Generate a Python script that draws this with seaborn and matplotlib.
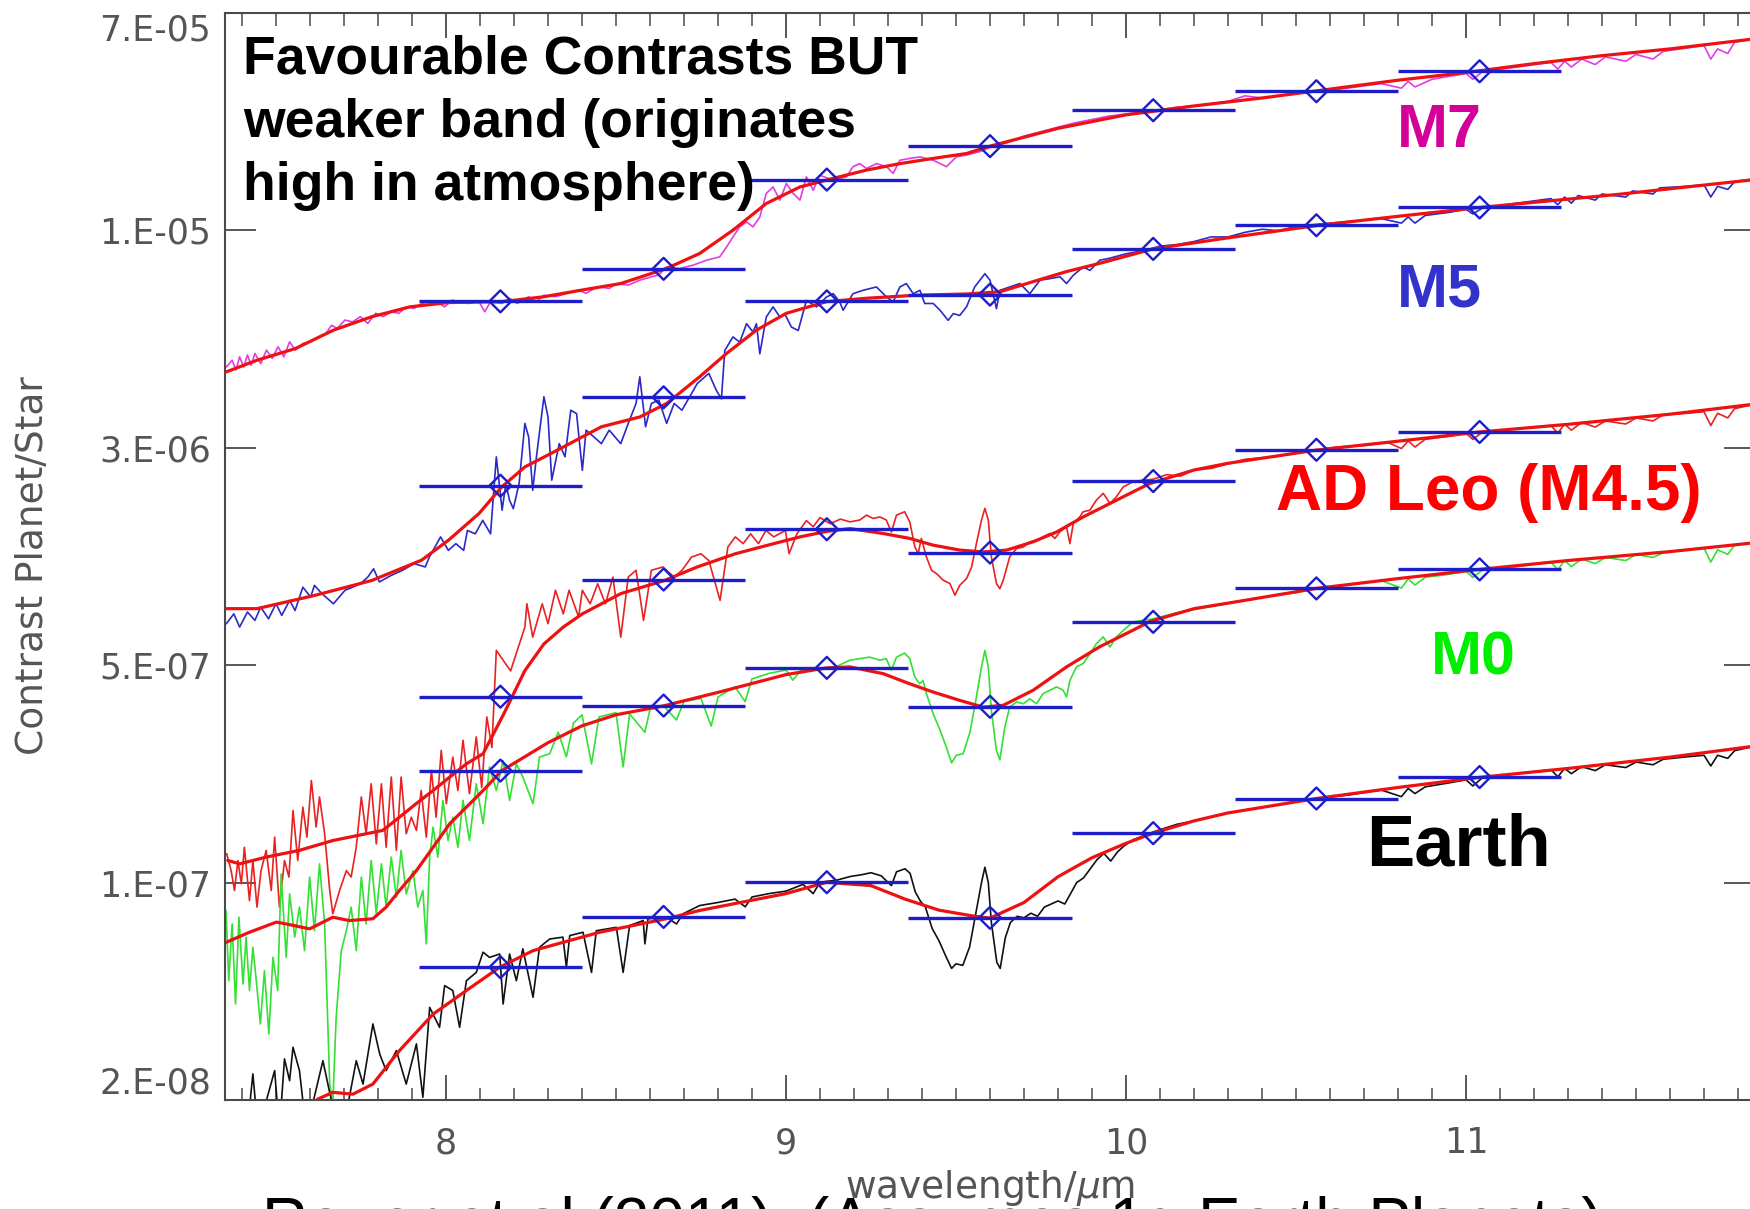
import numpy as np
import pandas as pd
import seaborn as sns
import matplotlib.pyplot as plt
from matplotlib.ticker import MultipleLocator, NullLocator

# wavelength in micron, contrast given as log10(planet/star)
bin_centres = [8.16, 8.64, 9.12, 9.60, 10.08, 10.56, 11.04]
bin_half_width = 0.24

m7_bins = [-5.095, -4.989, -4.698, -4.589, -4.472, -4.410, -4.345]
m5_bins = [-5.696, -5.408, -5.095, -5.073, -4.924, -4.847, -4.789]
adleo_bins = [-6.384, -6.002, -5.838, -5.914, -5.681, -5.579, -5.521]
m0_bins = [-6.625, -6.413, -6.290, -6.417, -6.140, -6.031, -5.969]
earth_bins = [-7.266, -7.102, -6.989, -7.105, -6.829, -6.716, -6.646]

m7_spec = [
    (7.354, -5.309), (7.371, -5.287), (7.382, -5.319), (7.393, -5.276), (7.405, -5.309), (7.416, -5.270),
    (7.427, -5.303), (7.438, -5.265), (7.455, -5.298), (7.472, -5.254), (7.489, -5.281), (7.506, -5.243),
    (7.523, -5.276), (7.540, -5.227), (7.557, -5.254), (7.579, -5.232), (7.602, -5.227), (7.624, -5.211),
    (7.647, -5.200), (7.663, -5.173), (7.680, -5.183), (7.703, -5.156), (7.725, -5.162), (7.748, -5.145),
    (7.770, -5.167), (7.793, -5.134), (7.816, -5.145), (7.838, -5.129), (7.861, -5.134), (7.883, -5.113),
    (7.906, -5.118), (7.928, -5.102), (7.951, -5.107), (7.973, -5.096), (7.996, -5.113), (8.018, -5.091),
    (8.063, -5.102), (8.097, -5.096), (8.114, -5.129), (8.131, -5.096), (8.165, -5.102), (8.187, -5.085),
    (8.210, -5.102), (8.243, -5.080), (8.266, -5.096), (8.288, -5.075), (8.322, -5.080), (8.356, -5.069),
    (8.390, -5.058), (8.412, -5.069), (8.446, -5.047), (8.480, -5.053), (8.502, -5.037), (8.536, -5.042),
    (8.570, -5.026), (8.604, -5.015), (8.626, -5.009), (8.648, -4.983), (8.687, -4.988), (8.727, -4.977),
    (8.766, -4.961), (8.805, -4.950), (8.825, -4.918), (8.844, -4.885), (8.864, -4.852), (8.884, -4.836),
    (8.903, -4.852), (8.923, -4.820), (8.942, -4.743), (8.962, -4.722), (8.982, -4.765), (9.001, -4.711),
    (9.021, -4.743), (9.041, -4.765), (9.060, -4.689), (9.080, -4.733), (9.099, -4.684), (9.139, -4.700),
    (9.178, -4.689), (9.197, -4.656), (9.217, -4.646), (9.237, -4.662), (9.266, -4.646), (9.296, -4.656),
    (9.315, -4.678), (9.335, -4.635), (9.364, -4.629), (9.394, -4.624), (9.433, -4.635), (9.472, -4.656),
    (9.501, -4.624), (9.531, -4.618), (9.570, -4.607), (9.60, -4.593), (9.65, -4.578), (9.70, -4.556),
    (9.75, -4.542), (9.80, -4.527), (9.85, -4.513), (9.90, -4.502), (9.95, -4.491), (10.00, -4.484),
    (10.08, -4.473), (10.15, -4.462), (10.20, -4.458), (10.30, -4.443), (10.35, -4.425), (10.40, -4.432),
    (10.50, -4.418), (10.56, -4.411), (10.65, -4.400), (10.75, -4.385), (10.81, -4.400), (10.83, -4.378),
    (10.85, -4.396), (10.90, -4.371), (11.00, -4.352), (11.02, -4.371), (11.05, -4.345), (11.15, -4.331),
    (11.25, -4.316), (11.27, -4.338), (11.29, -4.312), (11.31, -4.331), (11.34, -4.305), (11.38, -4.323),
    (11.41, -4.298), (11.47, -4.312), (11.50, -4.290), (11.55, -4.305), (11.58, -4.280), (11.65, -4.269),
    (11.70, -4.261), (11.72, -4.305), (11.74, -4.272), (11.77, -4.287), (11.79, -4.250), (11.85, -4.239),
]
m7_smooth = [
    (7.354, -5.325), (7.444, -5.287), (7.557, -5.249), (7.669, -5.189), (7.782, -5.145), (7.894, -5.113),
    (8.007, -5.099), (8.165, -5.096), (8.288, -5.080), (8.401, -5.058), (8.514, -5.037), (8.648, -4.988),
    (8.746, -4.939), (8.844, -4.863), (8.942, -4.776), (9.041, -4.722), (9.139, -4.694), (9.237, -4.667),
    (9.335, -4.646), (9.433, -4.629), (9.531, -4.613), (9.60, -4.589), (9.80, -4.531), (10.00, -4.487),
    (10.20, -4.458), (10.40, -4.432), (10.60, -4.403), (10.80, -4.374), (11.00, -4.349), (11.20, -4.320),
    (11.40, -4.294), (11.60, -4.272), (11.85, -4.239),
]

m5_spec = [
    (7.354, -6.146), (7.376, -6.114), (7.393, -6.157), (7.416, -6.108), (7.438, -6.135), (7.455, -6.092),
    (7.478, -6.130), (7.500, -6.081), (7.517, -6.119), (7.540, -6.070), (7.556, -6.103), (7.579, -6.027),
    (7.602, -6.059), (7.613, -6.021), (7.635, -6.048), (7.658, -6.070), (7.669, -6.081), (7.703, -6.037),
    (7.725, -6.027), (7.748, -6.016), (7.770, -5.994), (7.787, -5.967), (7.804, -6.010), (7.838, -5.989),
    (7.872, -5.972), (7.906, -5.950), (7.939, -5.961), (7.951, -5.929), (7.984, -5.863), (8.007, -5.907),
    (8.029, -5.885), (8.052, -5.907), (8.063, -5.842), (8.086, -5.853), (8.108, -5.809), (8.131, -5.853),
    (8.148, -5.602), (8.165, -5.776), (8.176, -5.689), (8.187, -5.744), (8.198, -5.771), (8.215, -5.689),
    (8.232, -5.493), (8.243, -5.537), (8.255, -5.711), (8.266, -5.602), (8.288, -5.406), (8.300, -5.472),
    (8.311, -5.678), (8.333, -5.559), (8.350, -5.602), (8.367, -5.450), (8.384, -5.461), (8.401, -5.646),
    (8.412, -5.515), (8.435, -5.537), (8.457, -5.559), (8.480, -5.515), (8.514, -5.559), (8.536, -5.493),
    (8.559, -5.428), (8.570, -5.341), (8.587, -5.504), (8.604, -5.428), (8.626, -5.417), (8.649, -5.493),
    (8.671, -5.428), (8.694, -5.450), (8.739, -5.363), (8.773, -5.330), (8.795, -5.385), (8.806, -5.406),
    (8.810, -5.413), (8.820, -5.255), (8.844, -5.211), (8.864, -5.228), (8.884, -5.168), (8.903, -5.195),
    (8.913, -5.168), (8.923, -5.266), (8.942, -5.146), (8.962, -5.113), (8.982, -5.146), (8.996, -5.135),
    (9.016, -5.179), (9.036, -5.190), (9.060, -5.092), (9.090, -5.113), (9.119, -5.081), (9.139, -5.070),
    (9.158, -5.097), (9.168, -5.124), (9.197, -5.070), (9.227, -5.059), (9.266, -5.048), (9.296, -5.081),
    (9.315, -5.097), (9.335, -5.048), (9.354, -5.037), (9.374, -5.070), (9.394, -5.059), (9.408, -5.102),
    (9.433, -5.102), (9.453, -5.124), (9.477, -5.157), (9.492, -5.135), (9.511, -5.141), (9.531, -5.113),
    (9.555, -5.048), (9.585, -5.005), (9.600, -5.026), (9.619, -5.119), (9.629, -5.059), (9.658, -5.048),
    (9.688, -5.037), (9.717, -5.070), (9.747, -5.026), (9.776, -5.021), (9.806, -5.015), (9.825, -5.037),
    (9.845, -5.010), (9.874, -4.983), (9.894, -4.994), (9.923, -4.961), (9.95, -4.955), (10.00, -4.940),
    (10.05, -4.930), (10.10, -4.915), (10.15, -4.910), (10.20, -4.900), (10.25, -4.885), (10.30, -4.885),
    (10.35, -4.870), (10.40, -4.860), (10.45, -4.865), (10.50, -4.850), (10.55, -4.845), (10.60, -4.840),
    (10.65, -4.835), (10.70, -4.830), (10.75, -4.825), (10.81, -4.840), (10.83, -4.820), (10.85, -4.840),
    (10.88, -4.815), (10.95, -4.805), (11.00, -4.795), (11.02, -4.810), (11.05, -4.790), (11.15, -4.775),
    (11.25, -4.760), (11.27, -4.780), (11.29, -4.755), (11.31, -4.775), (11.33, -4.750), (11.38, -4.765),
    (11.40, -4.745), (11.47, -4.755), (11.49, -4.735), (11.55, -4.745), (11.57, -4.725), (11.65, -4.720),
    (11.70, -4.715), (11.72, -4.755), (11.74, -4.720), (11.77, -4.730), (11.79, -4.705), (11.85, -4.695),
]
m5_smooth = [
    (7.354, -6.097), (7.444, -6.097), (7.613, -6.054), (7.782, -6.005), (7.928, -5.939), (8.007, -5.874),
    (8.097, -5.787), (8.164, -5.700), (8.232, -5.635), (8.345, -5.570), (8.457, -5.504), (8.570, -5.472),
    (8.649, -5.428), (8.746, -5.341), (8.825, -5.265), (8.913, -5.189), (9.001, -5.134), (9.119, -5.096),
    (9.236, -5.085), (9.384, -5.075), (9.531, -5.071), (9.629, -5.064), (9.726, -5.031), (9.825, -4.998),
    (9.923, -4.971), (10.08, -4.924), (10.30, -4.888), (10.56, -4.848), (10.79, -4.819), (11.04, -4.789),
    (11.45, -4.746), (11.85, -4.698),
]

adleo_spec = [
    (7.355, -6.896), (7.368, -6.951), (7.378, -7.016), (7.388, -6.918), (7.398, -6.994), (7.407, -6.875),
    (7.422, -7.049), (7.432, -6.918), (7.444, -7.070), (7.456, -6.951), (7.471, -6.885), (7.486, -7.016),
    (7.496, -6.842), (7.510, -7.070), (7.525, -6.918), (7.538, -6.972), (7.550, -6.755), (7.564, -6.918),
    (7.579, -6.744), (7.591, -6.842), (7.604, -6.657), (7.618, -6.809), (7.628, -6.711), (7.643, -6.831),
    (7.658, -7.016), (7.667, -7.092), (7.687, -7.016), (7.707, -6.951), (7.721, -6.972), (7.736, -6.875),
    (7.751, -6.711), (7.765, -6.831), (7.780, -6.668), (7.795, -6.864), (7.810, -6.668), (7.824, -6.875),
    (7.839, -6.646), (7.854, -6.885), (7.868, -6.646), (7.883, -6.831), (7.898, -6.777), (7.913, -6.820),
    (7.927, -6.690), (7.942, -6.842), (7.957, -6.624), (7.971, -6.777), (7.986, -6.559), (8.001, -6.733),
    (8.020, -6.581), (8.035, -6.690), (8.050, -6.526), (8.069, -6.700), (8.089, -6.515), (8.105, -6.680),
    (8.120, -6.450), (8.135, -6.550), (8.148, -6.233), (8.190, -6.300), (8.232, -6.157), (8.238, -6.081),
    (8.255, -6.190), (8.283, -6.081), (8.300, -6.146), (8.322, -6.037), (8.345, -6.114), (8.362, -6.037),
    (8.390, -6.124), (8.401, -6.037), (8.424, -6.081), (8.446, -6.016), (8.469, -6.081), (8.491, -5.994),
    (8.514, -6.190), (8.536, -5.994), (8.559, -5.972), (8.581, -6.135), (8.604, -5.972), (8.638, -5.961),
    (8.671, -5.994), (8.694, -5.972), (8.722, -5.929), (8.750, -5.918), (8.773, -5.940), (8.806, -6.070),
    (8.829, -5.896), (8.851, -5.863), (8.874, -5.885), (8.896, -5.853), (8.919, -5.885), (8.941, -5.842),
    (8.964, -5.863), (8.998, -5.842), (9.009, -5.918), (9.032, -5.853), (9.060, -5.810), (9.080, -5.830),
    (9.100, -5.800), (9.130, -5.820), (9.160, -5.805), (9.188, -5.814), (9.217, -5.808), (9.237, -5.792),
    (9.256, -5.803), (9.276, -5.798), (9.295, -5.808), (9.310, -5.847), (9.325, -5.792), (9.349, -5.781),
    (9.364, -5.814), (9.379, -5.896), (9.389, -5.917), (9.398, -5.868), (9.413, -5.928), (9.428, -5.972),
    (9.443, -5.983), (9.462, -6.004), (9.482, -6.015), (9.497, -6.053), (9.511, -6.021), (9.531, -5.999),
    (9.546, -5.961), (9.560, -5.885), (9.575, -5.808), (9.585, -5.770), (9.595, -5.808), (9.604, -5.928),
    (9.619, -6.015), (9.629, -6.032), (9.639, -6.004), (9.658, -5.928), (9.678, -5.901), (9.698, -5.896),
    (9.717, -5.879), (9.737, -5.874), (9.756, -5.863), (9.776, -5.852), (9.791, -5.868), (9.805, -5.847),
    (9.825, -5.830), (9.835, -5.885), (9.845, -5.819), (9.864, -5.798), (9.874, -5.781), (9.894, -5.776),
    (9.913, -5.743), (9.933, -5.721), (9.953, -5.754), (9.972, -5.732), (9.992, -5.700), (10.021, -5.683),
    (10.051, -5.678), (10.08, -5.675), (10.12, -5.660), (10.16, -5.665), (10.20, -5.645), (10.25, -5.640),
    (10.30, -5.625), (10.35, -5.610), (10.40, -5.605), (10.45, -5.600), (10.50, -5.590), (10.56, -5.580),
    (10.62, -5.570), (10.70, -5.565), (10.77, -5.555), (10.81, -5.575), (10.83, -5.550), (10.85, -5.570),
    (10.88, -5.545), (10.95, -5.535), (11.00, -5.525), (11.02, -5.545), (11.05, -5.520), (11.15, -5.510),
    (11.25, -5.500), (11.27, -5.525), (11.29, -5.495), (11.31, -5.515), (11.34, -5.490), (11.38, -5.505),
    (11.41, -5.485), (11.47, -5.495), (11.50, -5.475), (11.55, -5.485), (11.58, -5.465), (11.65, -5.460),
    (11.70, -5.455), (11.72, -5.500), (11.74, -5.460), (11.77, -5.475), (11.79, -5.445), (11.85, -5.430),
]
adleo_smooth = [
    (7.358, -6.918), (7.393, -6.929), (7.471, -6.907), (7.569, -6.885), (7.667, -6.853), (7.765, -6.831),
    (7.814, -6.820), (7.863, -6.777), (7.912, -6.733), (7.962, -6.690), (8.011, -6.646), (8.060, -6.603),
    (8.109, -6.570), (8.170, -6.440), (8.232, -6.299), (8.288, -6.212), (8.345, -6.157), (8.401, -6.114),
    (8.514, -6.048), (8.643, -6.005), (8.739, -5.961), (8.851, -5.918), (8.964, -5.885), (9.041, -5.863),
    (9.120, -5.845), (9.188, -5.836), (9.286, -5.852), (9.364, -5.868), (9.433, -5.890), (9.511, -5.906),
    (9.580, -5.912), (9.649, -5.906), (9.727, -5.879), (9.796, -5.847), (9.874, -5.798), (9.953, -5.754),
    (10.021, -5.716), (10.070, -5.689), (10.20, -5.645), (10.30, -5.623), (10.56, -5.580), (10.80, -5.551),
    (11.04, -5.521), (11.30, -5.496), (11.60, -5.463), (11.85, -5.430),
]

m0_spec = [
    (7.353, -7.081), (7.361, -7.310), (7.371, -7.125), (7.381, -7.386), (7.391, -7.103), (7.403, -7.321),
    (7.412, -7.168), (7.422, -7.342), (7.432, -7.201), (7.442, -7.310), (7.454, -7.451), (7.466, -7.277),
    (7.479, -7.484), (7.491, -7.234), (7.505, -7.342), (7.515, -6.962), (7.530, -7.234), (7.540, -7.027),
    (7.555, -7.168), (7.569, -7.070), (7.584, -7.212), (7.599, -6.972), (7.613, -7.147), (7.628, -6.929),
    (7.643, -7.125), (7.658, -7.647), (7.667, -7.712), (7.677, -7.429), (7.692, -7.212), (7.707, -7.147),
    (7.721, -7.070), (7.736, -7.212), (7.751, -6.972), (7.765, -7.125), (7.780, -6.918), (7.795, -7.092),
    (7.810, -6.929), (7.824, -7.070), (7.839, -6.907), (7.854, -7.038), (7.868, -6.885), (7.883, -7.027),
    (7.903, -6.951), (7.917, -7.070), (7.932, -7.016), (7.942, -7.190), (7.952, -6.907), (7.962, -6.809),
    (7.976, -6.907), (7.991, -6.722), (8.006, -6.853), (8.020, -6.777), (8.035, -6.875), (8.050, -6.722),
    (8.069, -6.853), (8.089, -6.668), (8.109, -6.798), (8.128, -6.613), (8.148, -6.690), (8.168, -6.592),
    (8.187, -6.722), (8.207, -6.603), (8.226, -6.646), (8.256, -6.733), (8.275, -6.581), (8.305, -6.570),
    (8.330, -6.500), (8.354, -6.580), (8.375, -6.470), (8.400, -6.443), (8.428, -6.603), (8.450, -6.450),
    (8.500, -6.436), (8.521, -6.613), (8.540, -6.440), (8.585, -6.500), (8.600, -6.425), (8.640, -6.414),
    (8.678, -6.460), (8.700, -6.399), (8.750, -6.390), (8.780, -6.480), (8.800, -6.385), (8.850, -6.352),
    (8.880, -6.400), (8.900, -6.326), (8.950, -6.308), (9.000, -6.297), (9.020, -6.330), (9.050, -6.290),
    (9.100, -6.295), (9.150, -6.285), (9.188, -6.265), (9.217, -6.260), (9.246, -6.255), (9.276, -6.265),
    (9.295, -6.260), (9.310, -6.298), (9.325, -6.255), (9.349, -6.242), (9.364, -6.260), (9.379, -6.320),
    (9.393, -6.342), (9.403, -6.331), (9.413, -6.374), (9.433, -6.440), (9.452, -6.490), (9.472, -6.550),
    (9.487, -6.600), (9.501, -6.575), (9.521, -6.570), (9.541, -6.500), (9.560, -6.385), (9.575, -6.287),
    (9.585, -6.233), (9.595, -6.287), (9.604, -6.429), (9.619, -6.560), (9.629, -6.590), (9.644, -6.480),
    (9.658, -6.418), (9.678, -6.401), (9.698, -6.407), (9.717, -6.391), (9.737, -6.407), (9.756, -6.374),
    (9.776, -6.363), (9.796, -6.352), (9.815, -6.363), (9.825, -6.385), (9.835, -6.331), (9.854, -6.287),
    (9.874, -6.276), (9.894, -6.244), (9.913, -6.211), (9.933, -6.189), (9.953, -6.222), (9.972, -6.189),
    (9.992, -6.168), (10.021, -6.140), (10.051, -6.135), (10.08, -6.130), (10.15, -6.110), (10.20, -6.100),
    (10.30, -6.080), (10.40, -6.060), (10.50, -6.045), (10.56, -6.030), (10.65, -6.020), (10.75, -6.005),
    (10.81, -6.030), (10.83, -6.000), (10.85, -6.020), (10.88, -5.995), (10.95, -5.985), (11.00, -5.975),
    (11.02, -5.995), (11.05, -5.970), (11.15, -5.960), (11.25, -5.945), (11.27, -5.970), (11.29, -5.940),
    (11.31, -5.960), (11.34, -5.935), (11.38, -5.950), (11.41, -5.930), (11.47, -5.940), (11.50, -5.920),
    (11.55, -5.930), (11.58, -5.915), (11.65, -5.905), (11.70, -5.900), (11.72, -5.945), (11.74, -5.905),
    (11.77, -5.920), (11.79, -5.890), (11.85, -5.880),
]
m0_smooth = [
    (7.353, -7.185), (7.422, -7.152), (7.501, -7.119), (7.530, -7.125), (7.599, -7.141), (7.667, -7.103),
    (7.716, -7.114), (7.785, -7.108), (7.824, -7.070), (7.863, -7.016), (7.913, -6.951), (7.962, -6.875),
    (8.011, -6.798), (8.060, -6.744), (8.109, -6.690), (8.163, -6.626), (8.30, -6.534), (8.40, -6.479),
    (8.50, -6.443), (8.64, -6.414), (8.80, -6.370), (9.00, -6.312), (9.12, -6.290), (9.188, -6.287),
    (9.286, -6.309), (9.364, -6.342), (9.433, -6.369), (9.511, -6.396), (9.580, -6.418), (9.639, -6.412),
    (9.727, -6.363), (9.825, -6.287), (9.923, -6.221), (10.021, -6.167), (10.070, -6.139), (10.20, -6.097),
    (10.30, -6.079), (10.56, -6.031), (10.80, -5.999), (11.04, -5.969), (11.30, -5.940), (11.60, -5.911),
    (11.85, -5.882),
]

earth_spec = [
    (7.353, -7.800), (7.380, -7.800), (7.400, -7.740), (7.415, -7.800), (7.432, -7.614), (7.447, -7.800),
    (7.496, -7.603), (7.510, -7.800), (7.525, -7.565), (7.540, -7.636), (7.550, -7.527), (7.569, -7.603),
    (7.589, -7.800), (7.638, -7.571), (7.662, -7.696), (7.697, -7.800), (7.736, -7.571), (7.756, -7.647),
    (7.785, -7.451), (7.805, -7.549), (7.824, -7.603), (7.854, -7.538), (7.883, -7.647), (7.913, -7.516),
    (7.932, -7.690), (7.952, -7.397), (7.981, -7.462), (7.996, -7.326), (8.020, -7.342), (8.040, -7.462),
    (8.060, -7.310), (8.089, -7.283), (8.109, -7.217), (8.128, -7.234), (8.158, -7.223), (8.168, -7.386),
    (8.187, -7.223), (8.207, -7.310), (8.226, -7.206), (8.256, -7.364), (8.275, -7.201), (8.305, -7.174),
    (8.344, -7.168), (8.354, -7.266), (8.364, -7.163), (8.403, -7.152), (8.428, -7.283), (8.442, -7.147),
    (8.501, -7.136), (8.521, -7.283), (8.540, -7.130), (8.580, -7.114), (8.585, -7.190), (8.594, -7.108),
    (8.648, -7.103), (8.678, -7.125), (8.697, -7.092), (8.746, -7.065), (8.800, -7.055), (8.850, -7.044),
    (8.880, -7.069), (8.900, -7.037), (8.950, -7.026), (9.000, -7.018), (9.050, -6.996), (9.080, -7.026),
    (9.100, -6.989), (9.150, -6.982), (9.190, -6.970), (9.220, -6.965), (9.250, -6.958), (9.280, -6.968),
    (9.310, -7.000), (9.325, -6.955), (9.350, -6.945), (9.365, -6.960), (9.380, -7.020), (9.395, -7.050),
    (9.410, -7.070), (9.430, -7.140), (9.450, -7.180), (9.470, -7.230), (9.487, -7.270), (9.500, -7.255),
    (9.520, -7.260), (9.540, -7.200), (9.560, -7.080), (9.575, -6.990), (9.585, -6.940), (9.595, -6.990),
    (9.604, -7.120), (9.620, -7.250), (9.630, -7.270), (9.645, -7.170), (9.660, -7.120), (9.680, -7.100),
    (9.700, -7.105), (9.720, -7.090), (9.740, -7.100), (9.760, -7.070), (9.780, -7.060), (9.800, -7.050),
    (9.820, -7.060), (9.835, -7.030), (9.855, -6.990), (9.875, -6.975), (9.895, -6.945), (9.915, -6.915),
    (9.935, -6.895), (9.955, -6.920), (9.975, -6.890), (9.995, -6.870), (10.02, -6.851), (10.08, -6.825),
    (10.15, -6.800), (10.20, -6.789), (10.30, -6.763), (10.40, -6.745), (10.50, -6.727), (10.56, -6.716),
    (10.65, -6.705), (10.75, -6.688), (10.81, -6.710), (10.83, -6.683), (10.85, -6.700), (10.88, -6.678),
    (10.95, -6.665), (11.00, -6.655), (11.02, -6.675), (11.05, -6.647), (11.15, -6.635), (11.25, -6.622),
    (11.27, -6.645), (11.29, -6.618), (11.31, -6.635), (11.34, -6.612), (11.38, -6.625), (11.41, -6.606),
    (11.47, -6.615), (11.50, -6.597), (11.55, -6.606), (11.58, -6.588), (11.65, -6.580), (11.70, -6.575),
    (11.72, -6.610), (11.74, -6.575), (11.77, -6.585), (11.79, -6.560), (11.85, -6.545),
]
earth_smooth = [
    (7.600, -7.720), (7.623, -7.696), (7.667, -7.674), (7.726, -7.680), (7.785, -7.647), (7.863, -7.538),
    (7.962, -7.419), (8.060, -7.342), (8.158, -7.266), (8.256, -7.212), (8.452, -7.152), (8.648, -7.108),
    (8.746, -7.081), (9.00, -7.026), (9.12, -6.989), (9.25, -7.000), (9.35, -7.044), (9.45, -7.080),
    (9.55, -7.099), (9.60, -7.106), (9.70, -7.055), (9.80, -6.971), (9.90, -6.909), (10.00, -6.862),
    (10.08, -6.829), (10.20, -6.789), (10.30, -6.763), (10.56, -6.716), (10.80, -6.680), (11.04, -6.647),
    (11.30, -6.618), (11.60, -6.581), (11.85, -6.545),
]

ytick_labels = ['2.E-08', '1.E-07', '5.E-07', '3.E-06', '1.E-05', '7.E-05']

sns.set_style('ticks')
plt.rcParams['font.family'] = ['DejaVu Sans']

fig = plt.figure(figsize=(17.5, 12.09), dpi=100)
ax = fig.add_axes([225 / 1750, 1 - 1100 / 1209, 1530 / 1750, 1087 / 1209])

blue = '#1e1ec8'
smooth_red = '#ee1111'


def draw_line(pairs, color, lw, z):
    df = pd.DataFrame(pairs, columns=['wl', 'logc'])
    df['contrast'] = 10 ** df['logc']
    sns.lineplot(data=df, x='wl', y='contrast', ax=ax, color=color, lw=lw,
                 estimator=None, sort=False, legend=False, zorder=z)


# high resolution spectra
draw_line(m7_spec, '#e23ce2', 1.2, 2)
draw_line(m5_spec, '#2a2ac8', 1.2, 2)
draw_line(adleo_spec, '#e82222', 1.2, 2)
draw_line(m0_spec, '#33e033', 1.2, 2)
draw_line(earth_spec, '#111111', 1.2, 2)

# smoothed spectra
for s in [m7_smooth, m5_smooth, adleo_smooth, m0_smooth, earth_smooth]:
    draw_line(s, smooth_red, 2.3, 3)

# binned values (horizontal bars + open diamonds)
centres = np.array(bin_centres)
for b in [m7_bins, m5_bins, adleo_bins, m0_bins, earth_bins]:
    vals = 10 ** np.array(b)
    ax.hlines(vals, centres - bin_half_width, centres + bin_half_width,
              color=blue, lw=2.4, zorder=4)
    sns.scatterplot(x=centres, y=vals, ax=ax, marker='D', s=125, zorder=5, legend=False)
    pts = ax.collections[-1]
    pts.set_facecolor('none')
    pts.set_edgecolor(blue)
    pts.set_linewidth(1.7)

ax.set_yscale('log')
ax.set_xlim(7.35, 11.85)
ax.set_ylim(2e-8, 7e-5)
ax.set_yticks(np.geomspace(2e-8, 7e-5, 6))
ax.set_yticklabels(ytick_labels)
ax.yaxis.set_minor_locator(NullLocator())
ax.xaxis.set_major_locator(MultipleLocator(1))
ax.xaxis.set_minor_locator(MultipleLocator(0.1))

grey = '#4a4a4a'
label_grey = '#555555'
ax.tick_params(axis='x', which='major', direction='in', length=18, width=1.3, top=True,
               pad=19, labelsize=25, labelcolor=label_grey, color=grey)
ax.tick_params(axis='x', which='minor', direction='in', length=9, width=1.1, top=True, color=grey)
ax.tick_params(axis='y', which='major', direction='in', length=22, width=1.3, right=True,
               pad=10, labelsize=25, labelcolor=label_grey, color=grey)
for sp in ax.spines.values():
    sp.set_color(grey)
    sp.set_linewidth(1.5)

yt = ax.yaxis.get_major_ticks()
yt[0].label1.set_verticalalignment('bottom')
yt[-1].label1.set_verticalalignment('top')

ax.set_xlabel('wavelength/$\\mu$m', fontsize=27, color=label_grey)
ax.xaxis.set_label_coords(0.5, -0.063)
ax.set_ylabel('Contrast Planet/Star', fontsize=27, color=label_grey)
ax.yaxis.set_label_coords(-0.114, 0.492)

bold = dict(family=['Liberation Sans', 'DejaVu Sans'], fontweight='bold', transform=ax.transAxes)
note_lines = ['Favourable Contrasts BUT', 'weaker band (originates', 'high in atmosphere)']
for line, yb in zip(note_lines, [0.9445, 0.8862, 0.828]):
    ax.text(0.012, yb, line, fontsize=38.5, color='black', va='baseline', zorder=6, **bold)

ax.text(0.766, 0.877, 'M7', fontsize=44, color='#d4009a', va='baseline', **bold)
ax.text(0.766, 0.730, 'M5', fontsize=44, color='#3333cc', va='baseline', **bold)
ax.text(0.687, 0.543, 'AD Leo (M4.5)', fontsize=46, color='#ff0000', va='baseline', **bold)
ax.text(0.788, 0.391, 'M0', fontsize=44, color='#00ee00', va='baseline', **bold)
ax.text(0.746, 0.216, 'Earth', fontsize=52, color='black', va='baseline', **bold)

# source note, partly cut by the lower edge as in the original slide
fig.text(0.150, 0.011, 'Rauer et al (2011), (Assumes 1g Earth Planets)', fontsize=46,
         family=['Liberation Sans', 'DejaVu Sans'], color='black', va='top')

fig.savefig('out.png', dpi=100)
